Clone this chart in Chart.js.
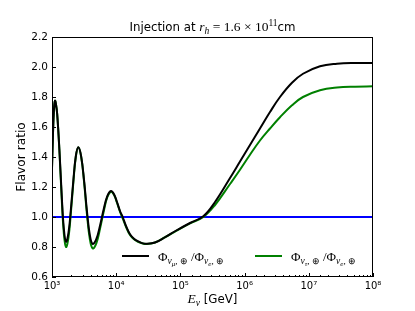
<!DOCTYPE html>
<html>
<head>
<meta charset="utf-8">
<script src="https://cdn.jsdelivr.net/npm/chart.js@4/dist/chart.umd.min.js"></script>
<style>
  body { margin: 0; background: #fff; }
</style>
</head>
<body>
<canvas id="flavorChart" width="415" height="311"></canvas>
<script>
// energies in GeV
const energyGeV = [1000, 1036.5, 1074.4, 1113.6, 1154.2, 1205, 1304.3, 1411, 1527, 1652,
	1807.2, 1970, 2154.4, 2348.4, 2568.6, 2850.2, 3162.3, 3496, 3879.5, 4305,
	4914.5, 5593.6, 6388, 7268, 8298, 9242, 10291, 11460, 12623, 14212,
	16406, 18938, 21860, 25230, 29122, 40216, 57553, 82388, 141100, 227350,
	346000, 593000, 848000, 1213000, 1736000, 2486000, 3557000, 5470000, 8120000, 14940000,
	27480000, 52450000, 100000000];
// Phi_mu / Phi_e (black)
const muOverE = [1.325, 1.56, 1.72, 1.775, 1.75, 1.685, 1.45, 1.16, 0.925, 0.835,
	0.895, 1.053, 1.247, 1.405, 1.465, 1.403, 1.242, 1.043, 0.881, 0.82,
	0.854, 0.942, 1.051, 1.139, 1.173, 1.152, 1.10, 1.04, 1.0, 0.94,
	0.885, 0.855, 0.838, 0.826, 0.822, 0.83, 0.865, 0.905, 0.96, 1.005,
	1.10, 1.26, 1.37, 1.48, 1.59, 1.70, 1.80, 1.895, 1.955, 2.005,
	2.022, 2.027, 2.027];
// Phi_tau / Phi_e (green)
const tauOverE = [1.32, 1.56, 1.72, 1.775, 1.75, 1.686, 1.441, 1.139, 0.894, 0.80,
	0.864, 1.03, 1.235, 1.40, 1.465, 1.40, 1.232, 1.023, 0.855, 0.79,
	0.826, 0.921, 1.037, 1.132, 1.168, 1.148, 1.095, 1.035, 0.99, 0.935,
	0.88, 0.852, 0.835, 0.825, 0.82, 0.83, 0.865, 0.903, 0.957, 1.0,
	1.08, 1.22, 1.315, 1.415, 1.51, 1.59, 1.665, 1.745, 1.80, 1.845,
	1.863, 1.869, 1.871];
const referenceLine = [1.0, 1.0];
const referenceEnergy = [1e3, 1e8];
const xTickPowers = [3, 4, 5, 6, 7, 8];
const yTickLabels = ["0.6", "0.8", "1.0", "1.2", "1.4", "1.6", "1.8", "2.0", "2.2"];

const sup = { 0: "⁰", 1: "¹", 2: "²", 3: "³", 4: "⁴", 5: "⁵", 6: "⁶", 7: "⁷", 8: "⁸", 9: "⁹" };
const SANS = '"DejaVu Sans"';
const SERIF = '"Liberation Serif"';

function toPoints(xs, ys) {
	return xs.map((x, i) => ({ x: x, y: ys[i] }));
}

// draw a row of text pieces: [text, font, dy]
function drawRuns(ctx, x, y, parts, align) {
	let total = 0;
	parts.forEach(p => { ctx.font = p[1]; total += ctx.measureText(p[0]).width; });
	let cx = align === "center" ? x - total / 2 : x;
	ctx.textAlign = "left";
	ctx.textBaseline = "alphabetic";
	parts.forEach(p => {
		ctx.font = p[1];
		ctx.fillText(p[0], cx, y + p[2]);
		cx += ctx.measureText(p[0]).width;
	});
}

function legendParts(sub) {
	return [
		["Φ", "13px " + SERIF, 0],
		["ν", "italic 9.5px " + SERIF, 3],
		[sub, "italic 7px " + SERIF, 5],
		[", ⊕", "9px " + SERIF, 3],
		[" /", "13px " + SERIF, 0],
		["Φ", "13px " + SERIF, 0],
		["ν", "italic 9.5px " + SERIF, 3],
		["e", "italic 7px " + SERIF, 5],
		[", ⊕", "9px " + SERIF, 3],
	];
}

const decor = {
	id: "decor",
	afterDraw(chart) {
		const { ctx, chartArea: a, scales } = chart;
		const x = scales.x, y = scales.y;
		ctx.save();
		ctx.strokeStyle = "#000";
		ctx.lineWidth = 1;
		// inward ticks
		ctx.beginPath();
		x.ticks.forEach(t => {
			const lg = Math.log10(t.value);
			const major = Math.abs(lg - Math.round(lg)) < 1e-9;
			const px = Math.round(x.getPixelForValue(t.value)) + 0.5;
			ctx.moveTo(px, a.bottom);
			ctx.lineTo(px, a.bottom - (major ? 4 : 2));
		});
		y.ticks.forEach(t => {
			const py = Math.round(y.getPixelForValue(t.value)) + 0.5;
			ctx.moveTo(a.left, py);
			ctx.lineTo(a.left + 4, py);
		});
		ctx.stroke();
		// frame
		ctx.strokeRect(Math.round(a.left) + 0.5, Math.round(a.top) + 0.5,
			Math.round(a.right - a.left) - 1, Math.round(a.bottom - a.top) - 1);

		ctx.fillStyle = "#000";
		// title
		drawRuns(ctx, (a.left + a.right) / 2, 31, [
			["Injection at ", "11.8px " + SANS, 0],
			["r", "italic 13.5px " + SERIF, 0],
			["h", "italic 9.5px " + SERIF, 2.5],
			[" = 1.6 × 10", "13.5px " + SERIF, 0],
			["11", "9.5px " + SERIF, -5.5],
			["cm", "11.8px " + SANS, 0],
		], "center");
		// x label
		drawRuns(ctx, (a.left + a.right) / 2, 303, [
			["E", "italic 13.5px " + SERIF, 0],
			["ν", "italic 9.5px " + SERIF, 2.5],
			[" [GeV]", "11.8px " + SANS, 0],
		], "center");
		// y label
		ctx.save();
		ctx.translate(22, (a.top + a.bottom) / 2);
		ctx.rotate(-Math.PI / 2);
		ctx.font = "12.2px " + SANS;
		ctx.textAlign = "center";
		ctx.textBaseline = "middle";
		ctx.fillText("Flavor ratio", 0, 0);
		ctx.restore();

		// legend
		const ds = chart.data.datasets;
		const entries = [
			{ x0: 122, sub: "μ", color: ds[0].borderColor },
			{ x0: 255, sub: "τ", color: ds[1].borderColor },
		];
		entries.forEach(e => {
			ctx.strokeStyle = e.color;
			ctx.lineWidth = 2;
			ctx.beginPath();
			ctx.moveTo(e.x0, 256);
			ctx.lineTo(e.x0 + 27, 256);
			ctx.stroke();
			ctx.fillStyle = "#000";
			drawRuns(ctx, e.x0 + 36, 261, legendParts(e.sub), "left");
		});
		ctx.restore();
	},
};

new Chart(document.getElementById("flavorChart"), {
	type: "line",
	data: {
		datasets: [
			{
				label: "mu/e",
				data: toPoints(energyGeV, muOverE),
				borderColor: "#000000",
				borderWidth: 2,
				pointRadius: 0,
				tension: 0.4,
			},
			{
				label: "tau/e",
				data: toPoints(energyGeV, tauOverE),
				borderColor: "#008000",
				borderWidth: 2,
				pointRadius: 0,
				tension: 0.4,
			},
			{
				label: "one",
				data: toPoints(referenceEnergy, referenceLine),
				borderColor: "#0000ff",
				borderWidth: 2,
				pointRadius: 0,
			},
		],
	},
	options: {
		responsive: false,
		animation: false,
		devicePixelRatio: 1,
		layout: { padding: { left: 0, right: 42, top: 37, bottom: 0 } },
		plugins: {
			legend: { display: false },
			title: { display: false },
			tooltip: { enabled: false },
		},
		scales: {
			x: {
				type: "logarithmic",
				min: 1e3,
				max: 1e8,
				grid: { display: false, drawTicks: false },
				border: { display: false },
				afterFit: s => { s.height = 34; },
				ticks: {
					autoSkip: false,
					maxRotation: 0,
					padding: 3,
					color: "#000",
					font: { family: "DejaVu Sans", size: 10 },
					callback: v => {
						const p = Math.round(Math.log10(v));
						if (Math.abs(Math.log10(v) - p) > 1e-9 || !xTickPowers.includes(p)) return "";
						return "10" + sup[p];
					},
				},
			},
			y: {
				min: 0.6,
				max: 2.2,
				grid: { display: false, drawTicks: false },
				border: { display: false },
				afterFit: s => { s.width = 52; },
				ticks: {
					stepSize: 0.2,
					padding: 4,
					color: "#000",
					font: { family: "DejaVu Sans", size: 10.5 },
					callback: (v, i) => yTickLabels[i] !== undefined ? yTickLabels[i] : v.toFixed(1),
				},
			},
		},
	},
	plugins: [decor],
});
</script>
</body>
</html>
